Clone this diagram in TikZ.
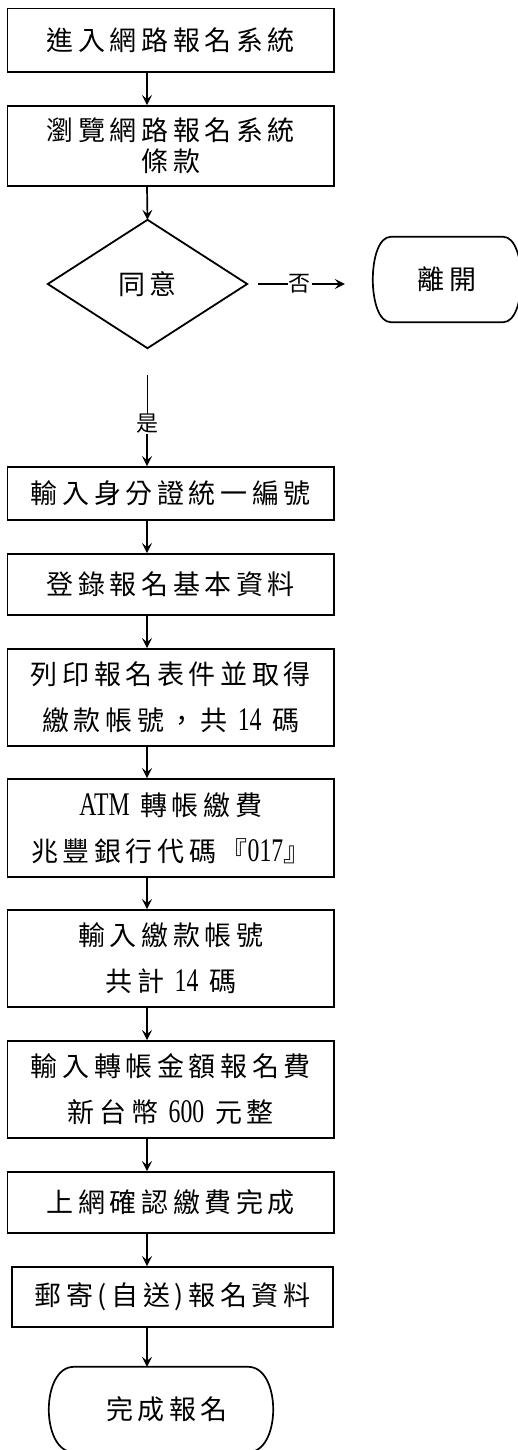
\documentclass[tikz,border=0pt]{standalone}
\usepackage{fontspec}
\usepackage{graphicx}
\setmainfont{Noto Sans CJK TC}[LetterSpace=17]
\newfontfamily\latfont{Liberation Serif}
\usetikzlibrary{arrows.meta,calc}
\newcommand\lat[1]{\scalebox{0.72}[1]{\latfont\fontsize{33}{33}\selectfont #1}}
\newcommand\termshape[2]{\draw[line width=1.7pt]
  ($(#1.north west)+(#2,0)$) -- ($(#1.north east)+(-#2,0)$)
  .. controls ($(#1.north east)+(#2/3,0)$) and ($(#1.south east)+(#2/3,0)$) .. ($(#1.south east)+(-#2,0)$)
  -- ($(#1.south west)+(#2,0)$)
  .. controls ($(#1.south west)+(-#2/3,0)$) and ($(#1.north west)+(-#2/3,0)$) .. cycle;}
\tikzset{
  box/.style={draw, line width=1.9pt, rectangle, inner sep=0pt, align=center,
    minimum width=326.5pt, font=\fontsize{27}{31}\selectfont},
  term/.style={rectangle, inner sep=0pt, align=center, font=\fontsize{27}{31}\selectfont},
  arr/.style={line width=1.7pt, -{Stealth[length=10pt,width=10pt,inset=4pt]}},
  lbl/.style={inner sep=0pt, font=\fontsize{22}{22}\selectfont}
}
\begin{document}
\begin{tikzpicture}[x=1pt,y=-1pt]
\useasboundingbox (0,0) rectangle (518,1450);
\coordinate (ax) at (147,0);
\node[box, minimum height=63.5pt] (b1) at (170.75,40.25) {進入網路報名系統};
\node[box, minimum height=80pt] (b2) at (170.75,146) {瀏覽網路報名系統\\條款};
\node[term, minimum width=199pt, minimum height=128pt] (d) at (147.5,284) {同意};
\draw[line width=1.8pt] (d.north) -- (d.east) -- (d.south) -- (d.west) -- cycle;
\node[term, minimum width=148pt, minimum height=85pt] (ex) at (447,279.5) {離開};
\termshape{ex}{18}
\coordinate (ys) at (147,375);
\node[lbl] (yes) at (147,424) {是};
\node[box, minimum height=53pt] (b3) at (170.75,493.5) {輸入身分證統一編號};
\node[box, minimum height=61pt] (b4) at (170.75,584.5) {登錄報名基本資料};
\node[box, minimum height=97pt] (b5) at (170.75,697.5) {列印報名表件並取得\\[15pt]繳款帳號，共 \lat{14} 碼};
\node[box, minimum height=98pt] (b6) at (170.75,828) {\lat{ATM} 轉帳繳費\\[15pt]兆豐銀行代碼『\lat{017}』};
\node[box, minimum height=97pt] (b7) at (170.75,958.5) {輸入繳款帳號\\[15pt]共計 \lat{14} 碼};
\node[box, minimum height=97pt] (b8) at (170.75,1089.5) {輸入轉帳金額報名費\\[15pt]新台幣 \lat{600} 元整};
\node[box, minimum height=61pt] (b9) at (170.75,1202.5) {上網確認繳費完成};
\node[box, minimum height=60pt, minimum width=321pt] (b10) at (172.5,1297) {郵寄(自送)報名資料};
\node[term, minimum width=224pt, minimum height=85pt] (fin) at (161,1409.5) {\hspace*{12pt}完成報名};
\termshape{fin}{25}
% connectors
\draw[arr] (b1.south -| ax) -- (b2.north -| ax);
\draw[arr] (b2.south -| ax) -- (d.north);
\draw[arr, shorten <=11pt, shorten >=28pt] (d.east) -- (d.east -| ex.west)
  node[pos=0.42, fill=white, inner sep=1pt, font=\fontsize{22}{22}\selectfont] {否};
\draw[line width=1pt] (ys) -- (yes.north);
\draw[arr] (yes.south) -- (b3.north -| yes.south);
\draw[arr] (b3.south -| ax) -- (b4.north -| ax);
\draw[arr] (b4.south -| ax) -- (b5.north -| ax);
\draw[arr] (b5.south -| ax) -- (b6.north -| ax);
\draw[arr] (b6.south -| ax) -- (b7.north -| ax);
\draw[arr] (b7.south -| ax) -- (b8.north -| ax);
\draw[arr] (b8.south -| ax) -- (b9.north -| ax);
\draw[arr] (b9.south -| ax) -- (b10.north -| ax);
\draw[arr] (b10.south -| ax) -- (fin.north -| ax);
\end{tikzpicture}
\end{document}
